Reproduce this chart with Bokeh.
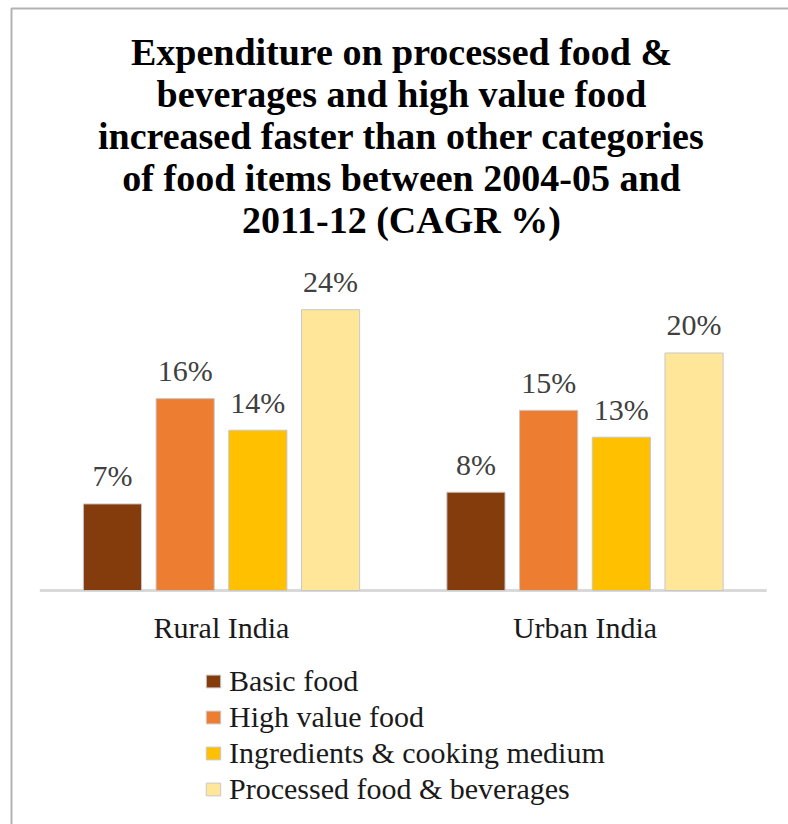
from bokeh.plotting import figure
from bokeh.models import ColumnDataSource, Range1d, Legend, LegendItem, BoxAnnotation
from bokeh.transform import dodge
from bokeh.core.properties import value
from bokeh.embed import file_html
from bokeh.resources import INLINE

# ---------------- data ----------------
categories = ["Rural India", "Urban India"]
series_names = ["Basic food", "High value food",
                "Ingredients & cooking medium", "Processed food & beverages"]
basic_food = [7.4, 8.4]
high_value_food = [16.4, 15.4]
ingredients_cooking = [13.7, 13.1]
processed_food_bev = [24.0, 20.3]
title_lines = ["Expenditure on processed food &",
               "beverages and high value food",
               "increased faster than other categories",
               "of food items between 2004-05 and",
               "2011-12 (CAGR %)"]

# ---------------- styles / layout ----------------
colors = ["#843C0C", "#ED7D31", "#FFC000", "#FFE699"]
SERIF = "'Liberation Serif', 'DejaVu Serif', serif"
W, H = 788, 824
CAT0_PX = 221.0     # pixel x of first category centre
CAT_PX = 363.5      # pixels per category
BASE_PX = 590.0     # pixel y of zero line
UNIT_PX = 11.7      # pixels per percentage point
SHIFT = 10          # text baseline correction (px)


def dx(px):
    return (px - CAT0_PX) / CAT_PX


def dy(py):
    return (BASE_PX - py) / UNIT_PX


p = figure(width=W, height=H,
           x_range=Range1d(dx(0), dx(W)), y_range=Range1d(dy(H), dy(0)),
           x_axis_type=None, y_axis_type=None,
           toolbar_location=None, output_backend="svg", min_border=0)
p.outline_line_color = None
p.background_fill_color = "white"
p.border_fill_color = "white"

# chart border (top + left)
p.add_layout(BoxAnnotation(left=dx(11), top=dy(8), right=dx(W + 30), bottom=dy(H + 30),
                           fill_alpha=0, line_color="black", line_width=2))

series = [basic_food, high_value_food, ingredients_cooking, processed_food_bev]
keys = ["basic", "high", "ingr", "proc"]
offsets = [-0.3, -0.1, 0.1, 0.3]
BAR_W = 0.16
LABEL_GAP_PX = 18 + SHIFT

data = dict(x=list(range(len(categories))), cat=categories,
            cat_y=[dy(637 - SHIFT)] * len(categories))
for k, s in zip(keys, series):
    data[k] = s
    data[k + "_ly"] = [v + LABEL_GAP_PX / UNIT_PX for v in s]
    data[k + "_lbl"] = [f"{v:.0f}%" for v in s]
src = ColumnDataSource(data)

# baseline (category axis line)
p.segment(x0=[-0.5], y0=[0], x1=[len(categories) - 0.5], y1=[0],
          line_color="#d9d9d9", line_width=3)

items = []
for k, name, c, off in zip(keys, series_names, colors, offsets):
    r = p.vbar(x=dodge("x", off, range=p.x_range), top=k, width=BAR_W, bottom=0,
               source=src, fill_color=c, line_color="#c8c8c8", line_width=1)
    items.append(LegendItem(label=name, renderers=[r]))
    p.text(x=dodge("x", off, range=p.x_range), y=k + "_ly", text=k + "_lbl",
           source=src, text_align="center", text_baseline="alphabetic",
           text_font=value(SERIF), text_font_size="30px", text_color="#404040")

# category labels
p.text(x="x", y="cat_y", text="cat", source=src, text_align="center",
       text_baseline="alphabetic", text_font=value(SERIF), text_font_size="30px",
       text_color="#1a1a1a")

# title
tsrc = ColumnDataSource(dict(x=[dx(401)] * len(title_lines),
                             y=[dy(61 - SHIFT + 42 * i) for i in range(len(title_lines))],
                             t=title_lines))
p.text(x="x", y="y", text="t", source=tsrc, text_align="center",
       text_baseline="alphabetic", text_font=value(SERIF), text_font_size="38px",
       text_font_style="bold", text_color="black")

legend = Legend(items=items, location=(204, 18), orientation="vertical",
                border_line_color=None, background_fill_alpha=0,
                padding=0, margin=0, spacing=2,
                glyph_width=18, glyph_height=16, label_standoff=7,
                label_text_font=SERIF, label_text_font_size="30px",
                label_text_color="#1a1a1a")
p.add_layout(legend)

open("out.html", "w").write(file_html(p, INLINE))
